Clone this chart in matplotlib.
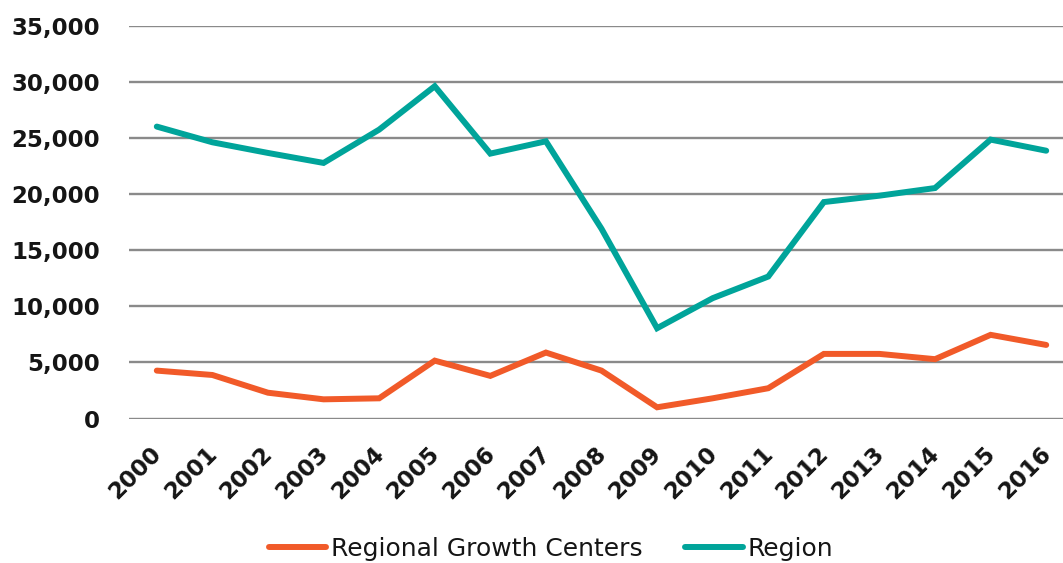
import matplotlib
matplotlib.use("Agg")
import matplotlib.pyplot as plt
from matplotlib.transforms import ScaledTranslation

years = [str(y) for y in range(2000, 2017)]
rgc = [4270, 3880, 2300, 1710, 1800, 5160, 3800, 5880, 4270, 1000, 1800, 2700, 5760, 5760, 5290, 7460, 6560]
region = [26030, 24630, 23680, 22790, 25760, 29630, 23620, 24720, 16920, 8050, 10730, 12660, 19300, 19870, 20550, 24870, 23880]
yticks = [0, 5000, 10000, 15000, 20000, 25000, 30000, 35000]

plt.rcParams['font.family'] = ['DejaVu Sans']

fig = plt.figure(figsize=(10.63, 5.63), dpi=100)
ax = fig.add_axes([129/1063, 1-418.5/563, (1074-129)/1063, (418.5-26)/563])

x = list(range(len(years)))
ax.plot(x, rgc, color='#F15A29', lw=4.3, solid_joinstyle='miter', solid_capstyle='round', label='Regional Growth Centers')
ax.plot(x, region, color='#00A49A', lw=4.3, solid_joinstyle='miter', solid_capstyle='round', label='Region')

ax.set_xlim(-0.5, len(years)-0.5)
ax.set_ylim(0, 35000)
ax.set_yticks(yticks)
ax.set_yticklabels([f"{v:,}" for v in yticks], fontsize=16.5, fontweight='bold', color='#151515')
ax.set_xticks(x)
ax.set_xticklabels(years, rotation=45, ha='right', rotation_mode='anchor', fontsize=16.5, fontweight='bold', color='#151515')
ax.tick_params(axis='y', length=0, pad=21)
ax.tick_params(axis='x', length=0, pad=12)
offset = ScaledTranslation(-7/100, -7/100, fig.dpi_scale_trans)
for lab in ax.get_xticklabels():
    lab.set_transform(lab.get_transform() + offset)
ax.grid(axis='y', color='#8a8a8a', lw=1.7)
ax.set_axisbelow(True)
for s in ax.spines.values():
    s.set_visible(False)

leg = fig.legend(loc='center', bbox_to_anchor=(551/1063, 1-549/563), ncol=2, frameon=False,
                 fontsize=18, handlelength=2.3, handletextpad=0.2, columnspacing=1.7)
for t in leg.get_texts():
    t.set_color('#151515')

fig.savefig('out.png', dpi=100)
